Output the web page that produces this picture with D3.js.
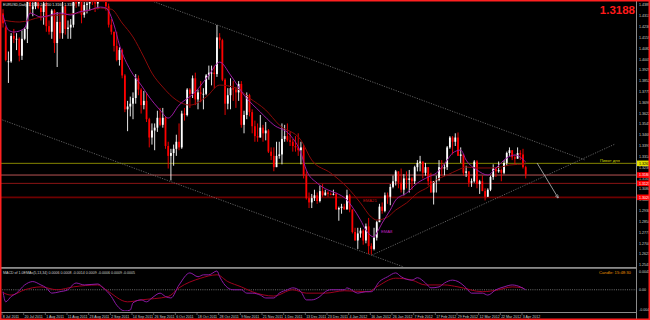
<!DOCTYPE html>
<html><head><meta charset="utf-8">
<script src="https://cdn.jsdelivr.net/npm/d3@7"></script>
<style>html,body{margin:0;padding:0;background:#000;overflow:hidden}svg{display:block}text{font-family:"Liberation Sans",Arial,sans-serif}</style>
</head><body><svg id="c" width="650" height="320"></svg>
<script>
// ---------- DATA ----------
const dates = ["2011-07-08","2011-07-11","2011-07-12","2011-07-13","2011-07-14","2011-07-15","2011-07-18","2011-07-19","2011-07-20","2011-07-21","2011-07-22","2011-07-25","2011-07-26","2011-07-27","2011-07-28","2011-07-29","2011-08-01","2011-08-02","2011-08-03","2011-08-04","2011-08-05","2011-08-08","2011-08-09","2011-08-10","2011-08-11","2011-08-12","2011-08-15","2011-08-16","2011-08-17","2011-08-18","2011-08-19","2011-08-22","2011-08-23","2011-08-24","2011-08-25","2011-08-26","2011-08-29","2011-08-30","2011-08-31","2011-09-01","2011-09-02","2011-09-05","2011-09-06","2011-09-07","2011-09-08","2011-09-09","2011-09-12","2011-09-13","2011-09-14","2011-09-15","2011-09-16","2011-09-19","2011-09-20","2011-09-21","2011-09-22","2011-09-23","2011-09-26","2011-09-27","2011-09-28","2011-09-29","2011-09-30","2011-10-03","2011-10-04","2011-10-05","2011-10-06","2011-10-07","2011-10-10","2011-10-11","2011-10-12","2011-10-13","2011-10-14","2011-10-17","2011-10-18","2011-10-19","2011-10-20","2011-10-21","2011-10-24","2011-10-25","2011-10-26","2011-10-27","2011-10-28","2011-10-31","2011-11-01","2011-11-02","2011-11-03","2011-11-04","2011-11-07","2011-11-08","2011-11-09","2011-11-10","2011-11-11","2011-11-14","2011-11-15","2011-11-16","2011-11-17","2011-11-18","2011-11-21","2011-11-22","2011-11-23","2011-11-24","2011-11-25","2011-11-28","2011-11-29","2011-11-30","2011-12-01","2011-12-02","2011-12-05","2011-12-06","2011-12-07","2011-12-08","2011-12-09","2011-12-12","2011-12-13","2011-12-14","2011-12-15","2011-12-16","2011-12-19","2011-12-20","2011-12-21","2011-12-22","2011-12-23","2011-12-26","2011-12-27","2011-12-28","2011-12-29","2011-12-30","2012-01-02","2012-01-03","2012-01-04","2012-01-05","2012-01-06","2012-01-09","2012-01-10","2012-01-11","2012-01-12","2012-01-13","2012-01-16","2012-01-17","2012-01-18","2012-01-19","2012-01-20","2012-01-23","2012-01-24","2012-01-25","2012-01-26","2012-01-27","2012-01-30","2012-01-31","2012-02-01","2012-02-02","2012-02-03","2012-02-06","2012-02-07","2012-02-08","2012-02-09","2012-02-10","2012-02-13","2012-02-14","2012-02-15","2012-02-16","2012-02-17","2012-02-20","2012-02-21","2012-02-22","2012-02-23","2012-02-24","2012-02-27","2012-02-28","2012-02-29","2012-03-01","2012-03-02","2012-03-05","2012-03-06","2012-03-07","2012-03-08","2012-03-09","2012-03-12","2012-03-13","2012-03-14","2012-03-15","2012-03-16","2012-03-19","2012-03-20","2012-03-21","2012-03-22","2012-03-23","2012-03-26","2012-03-27","2012-03-28","2012-03-29","2012-03-30","2012-04-02","2012-04-03","2012-04-04"];

const opens = [1.4330,1.4230,1.3990,1.3990,1.4170,1.4150,1.4150,1.4030,1.4150,1.4220,1.4420,1.4360,1.4380,1.4500,1.4370,1.4340,1.4400,1.4240,1.4200,1.4350,1.4120,1.4270,1.4190,1.4380,1.4220,1.4230,1.4250,1.4430,1.4400,1.4430,1.4320,1.4390,1.4400,1.4440,1.4410,1.4400,1.4490,1.4500,1.4460,1.4380,1.4250,1.4200,1.4100,1.4000,1.4070,1.3890,1.3650,1.3670,1.3690,1.3730,1.3870,1.3790,1.3680,1.3710,1.3580,1.3450,1.3500,1.3520,1.3590,1.3540,1.3590,1.3390,1.3320,1.3340,1.3370,1.3420,1.3380,1.3620,1.3610,1.3790,1.3760,1.3870,1.3720,1.3770,1.3760,1.3760,1.3890,1.3910,1.3910,1.3900,1.4160,1.4140,1.3860,1.3690,1.3750,1.3800,1.3790,1.3770,1.3830,1.3540,1.3610,1.3750,1.3630,1.3530,1.3460,1.3450,1.3520,1.3480,1.3500,1.3350,1.3320,1.3240,1.3320,1.3330,1.3440,1.3460,1.3430,1.3420,1.3390,1.3380,1.3360,1.3380,1.3180,1.3020,1.2990,1.3020,1.3040,1.3000,1.3070,1.3040,1.3060,1.3050,1.3045,1.3050,1.2940,1.2950,1.2960,1.2940,1.3040,1.2940,1.2780,1.2720,1.2770,1.2790,1.2720,1.2820,1.2680,1.2660,1.2740,1.2850,1.2960,1.2930,1.3040,1.3030,1.3100,1.3140,1.3210,1.3130,1.3080,1.3160,1.3150,1.3160,1.3140,1.3240,1.3270,1.3280,1.3200,1.3240,1.3140,1.3060,1.3140,1.3150,1.3240,1.3230,1.3240,1.3380,1.3450,1.3420,1.3450,1.3320,1.3330,1.3200,1.3210,1.3130,1.3140,1.3280,1.3120,1.3140,1.3070,1.3030,1.3080,1.3170,1.3230,1.3210,1.3220,1.3200,1.3270,1.3340,1.3360,1.3310,1.3300,1.3340,1.3330,1.3240];
const highs = [1.4360,1.4240,1.4060,1.4190,1.4220,1.4190,1.4160,1.4210,1.4230,1.4440,1.4430,1.4410,1.4520,1.4520,1.4390,1.4450,1.4450,1.4280,1.4360,1.4360,1.4340,1.4330,1.4420,1.4390,1.4280,1.4290,1.4440,1.4480,1.4490,1.4440,1.4420,1.4440,1.4460,1.4450,1.4440,1.4500,1.4550,1.4520,1.4480,1.4400,1.4290,1.4200,1.4200,1.4090,1.4080,1.3900,1.3710,1.3740,1.3770,1.3900,1.3890,1.3800,1.3780,1.3770,1.3590,1.3550,1.3550,1.3640,1.3660,1.3660,1.3600,1.3420,1.3370,1.3400,1.3470,1.3550,1.3640,1.3660,1.3800,1.3800,1.3890,1.3910,1.3790,1.3850,1.3800,1.3900,1.3960,1.3960,1.3960,1.4248,1.4190,1.4150,1.3870,1.3800,1.3870,1.3850,1.3810,1.3850,1.3850,1.3640,1.3770,1.3760,1.3650,1.3570,1.3550,1.3610,1.3540,1.3560,1.3510,1.3380,1.3380,1.3420,1.3420,1.3550,1.3540,1.3550,1.3490,1.3440,1.3460,1.3480,1.3420,1.3400,1.3210,1.3060,1.3050,1.3080,1.3060,1.3110,1.3120,1.3080,1.3070,1.3060,1.3080,1.3060,1.2960,1.2980,1.2980,1.3080,1.3050,1.2940,1.2810,1.2810,1.2810,1.2800,1.2840,1.2880,1.2700,1.2810,1.2860,1.2980,1.2990,1.3060,1.3060,1.3120,1.3180,1.3220,1.3210,1.3230,1.3190,1.3210,1.3220,1.3170,1.3250,1.3290,1.3320,1.3280,1.3270,1.3240,1.3200,1.3140,1.3180,1.3290,1.3290,1.3260,1.3390,1.3460,1.3460,1.3480,1.3486,1.3380,1.3330,1.3250,1.3210,1.3160,1.3290,1.3290,1.3150,1.3180,1.3090,1.3090,1.3180,1.3260,1.3240,1.3280,1.3230,1.3290,1.3350,1.3380,1.3360,1.3330,1.3380,1.3360,1.3370,1.3250];
const lows = [1.4230,1.3990,1.3837,1.3980,1.4120,1.4070,1.3990,1.4000,1.4140,1.4120,1.4330,1.4310,1.4360,1.4360,1.4280,1.4250,1.4200,1.4180,1.4150,1.4050,1.3950,1.4150,1.4150,1.4180,1.4150,1.4150,1.4230,1.4370,1.4380,1.4260,1.4300,1.4330,1.4350,1.4390,1.4340,1.4360,1.4440,1.4410,1.4350,1.4230,1.4180,1.4060,1.3990,1.3960,1.3870,1.3630,1.3495,1.3600,1.3580,1.3690,1.3750,1.3620,1.3650,1.3560,1.3380,1.3400,1.3360,1.3490,1.3530,1.3520,1.3370,1.3230,1.3146,1.3250,1.3320,1.3360,1.3370,1.3570,1.3600,1.3660,1.3730,1.3680,1.3650,1.3700,1.3650,1.3750,1.3860,1.3820,1.3800,1.3880,1.4080,1.3850,1.3610,1.3650,1.3650,1.3710,1.3660,1.3710,1.3520,1.3480,1.3580,1.3600,1.3480,1.3420,1.3420,1.3450,1.3420,1.3430,1.3340,1.3290,1.3211,1.3240,1.3300,1.3260,1.3420,1.3420,1.3390,1.3350,1.3350,1.3320,1.3260,1.3160,1.3010,1.2950,1.2950,1.3000,1.2980,1.2990,1.3030,1.3040,1.3030,1.3040,1.3040,1.2940,1.2860,1.2910,1.2940,1.2940,1.2920,1.2770,1.2720,1.2660,1.2740,1.2690,1.2700,1.2624,1.2620,1.2650,1.2720,1.2850,1.2910,1.2920,1.2980,1.2970,1.3090,1.3110,1.3090,1.3060,1.3040,1.3090,1.3060,1.3080,1.3120,1.3210,1.3210,1.3160,1.3180,1.3110,1.3060,1.2975,1.3060,1.3140,1.3180,1.3180,1.3220,1.3370,1.3330,1.3390,1.3320,1.3270,1.3180,1.3170,1.3100,1.3100,1.3130,1.3090,1.3050,1.3070,1.3004,1.3030,1.3070,1.3150,1.3170,1.3200,1.3140,1.3190,1.3250,1.3320,1.3290,1.3260,1.3300,1.3290,1.3230,1.3160];
const closes = [1.4260,1.4000,1.3990,1.4170,1.4150,1.4150,1.4030,1.4150,1.4220,1.4420,1.4380,1.4380,1.4500,1.4370,1.4340,1.4400,1.4240,1.4200,1.4350,1.4120,1.4270,1.4190,1.4380,1.4220,1.4230,1.4250,1.4430,1.4400,1.4430,1.4320,1.4390,1.4400,1.4440,1.4410,1.4400,1.4490,1.4500,1.4460,1.4380,1.4250,1.4200,1.4100,1.4000,1.4070,1.3890,1.3650,1.3670,1.3690,1.3730,1.3870,1.3790,1.3680,1.3710,1.3580,1.3450,1.3500,1.3520,1.3590,1.3540,1.3590,1.3390,1.3320,1.3340,1.3370,1.3420,1.3380,1.3620,1.3610,1.3790,1.3760,1.3870,1.3720,1.3770,1.3760,1.3760,1.3890,1.3910,1.3910,1.3900,1.4160,1.4140,1.3860,1.3690,1.3750,1.3800,1.3790,1.3770,1.3830,1.3540,1.3610,1.3750,1.3630,1.3530,1.3460,1.3450,1.3520,1.3480,1.3500,1.3350,1.3320,1.3240,1.3320,1.3330,1.3440,1.3460,1.3430,1.3420,1.3390,1.3380,1.3360,1.3380,1.3180,1.3020,1.2990,1.3020,1.3040,1.3000,1.3070,1.3040,1.3060,1.3050,1.3045,1.3050,1.2940,1.2950,1.2960,1.2940,1.3040,1.2940,1.2780,1.2720,1.2770,1.2790,1.2720,1.2820,1.2680,1.2660,1.2740,1.2850,1.2960,1.2930,1.3040,1.3030,1.3100,1.3140,1.3210,1.3130,1.3080,1.3160,1.3150,1.3160,1.3140,1.3240,1.3270,1.3280,1.3200,1.3240,1.3140,1.3060,1.3140,1.3150,1.3240,1.3230,1.3240,1.3380,1.3450,1.3420,1.3450,1.3320,1.3330,1.3200,1.3210,1.3130,1.3140,1.3280,1.3120,1.3140,1.3070,1.3030,1.3080,1.3170,1.3230,1.3210,1.3220,1.3200,1.3270,1.3340,1.3360,1.3310,1.3300,1.3340,1.3330,1.3240,1.3188];

// moving averages: [bar index, price]
const emaSlow = [[0,1.4283],[6,1.4269],[14,1.4304],[21,1.4319],[28,1.4333],[36,1.4368],[40,1.4360],[44,1.4262],[48,1.4163],[52,1.4021],[55,1.3907],[59,1.3808],[64,1.3716],[69,1.3680],[75,1.3737],[80,1.3822],[86,1.3801],[91,1.3730],[97,1.3645],[102,1.3539],[110,1.3432],[114,1.3290],[121,1.3198],[127,1.3099],[132,1.2986],[136,1.2886],[138,1.2865],[142,1.2886],[145,1.2936],[149,1.2986],[153,1.3056],[157,1.3099],[160,1.3149],[164,1.3184],[168,1.3220],[171,1.3241],[175,1.3234],[180,1.3234],[184,1.3241],[187,1.3255],[193,1.3262]];
const emaFast = [[0,1.4319],[2,1.4212],[4,1.4198],[8,1.4226],[10,1.4333],[14,1.4304],[21,1.4333],[25,1.4319],[28,1.4340],[32,1.4354],[36,1.4375],[38,1.4368],[41,1.4248],[43,1.4106],[47,1.3929],[51,1.3822],[54,1.3737],[58,1.3645],[61,1.3588],[65,1.3680],[71,1.3773],[76,1.3893],[80,1.3985],[84,1.3893],[89,1.3751],[95,1.3631],[100,1.3539],[106,1.3468],[110,1.3340],[112,1.3220],[116,1.3127],[120,1.3078],[123,1.3056],[127,1.3007],[129,1.2957],[132,1.2865],[134,1.2794],[137,1.2745],[138,1.2773],[140,1.2844],[143,1.2936],[145,1.3007],[149,1.3056],[153,1.3127],[157,1.3170],[160,1.3198],[164,1.3290],[166,1.3340],[169,1.3361],[171,1.3290],[175,1.3220],[179,1.3184],[182,1.3234],[186,1.3305],[189,1.3326],[193,1.3276]];

// MACD sub-window: [bar index, value]
const macdMain = [[0,-0.0004],[1,-0.0025],[3,-0.0014],[5,-0.0007],[8,0.0010],[11,0.0017],[14,0.0010],[16,0.0004],[18,-0.0007],[21,-0.0004],[24,0.0000],[25,0.0006],[27,0.0014],[30,0.0010],[35,0.0012],[37,0.0004],[40,-0.0014],[42,-0.0032],[45,-0.0044],[47,-0.0042],[48,-0.0027],[51,-0.0021],[53,-0.0025],[55,-0.0017],[58,-0.0007],[60,-0.0014],[62,-0.0017],[65,0.0010],[69,0.0035],[72,0.0027],[74,0.0031],[76,0.0031],[79,0.0039],[80,0.0027],[83,0.0004],[85,0.0000],[88,0.0000],[90,-0.0007],[92,-0.0007],[95,-0.0011],[97,-0.0017],[100,-0.0017],[102,-0.0007],[105,0.0000],[107,0.0004],[110,-0.0004],[112,-0.0021],[114,-0.0021],[117,-0.0014],[119,-0.0004],[121,0.0000],[126,0.0000],[127,0.0004],[131,-0.0007],[134,-0.0004],[136,-0.0004],[139,0.0017],[142,0.0027],[145,0.0035],[147,0.0027],[151,0.0020],[153,0.0025],[156,0.0014],[158,0.0004],[161,0.0006],[163,0.0014],[166,0.0020],[168,0.0017],[171,0.0004],[173,-0.0007],[177,-0.0007],[179,-0.0011],[182,0.0000],[185,0.0006],[188,0.0010],[191,0.0006],[193,0.0000]];
const macdSignal = [[0,-0.0006],[3,-0.0011],[8,0.0000],[14,0.0006],[20,0.0000],[26,0.0006],[35,0.0010],[38,0.0000],[46,-0.0025],[51,-0.0021],[61,-0.0014],[65,0.0004],[73,0.0024],[79,0.0031],[83,0.0017],[88,0.0006],[92,-0.0004],[100,-0.0013],[107,0.0000],[112,-0.0007],[119,-0.0007],[126,-0.0002],[135,-0.0004],[138,0.0006],[145,0.0024],[151,0.0020],[156,0.0010],[163,0.0010],[168,0.0006],[177,-0.0004],[183,0.0000],[188,0.0006],[192,0.0004]];

// horizontal levels
const levelNames = ["pivot","bid","s1","s2"];
const levelPrices = [1.3267, 1.3184, 1.3125, 1.3026];
// trend lines: [[bar,price],[bar,price]]
const trendUpper = [[54,1.4425],[215,1.3290]];
const trendLower = [[-1.1,1.3581],[148,1.2532]];
const trendRise = [[136.3,1.2617],[226,1.3404]];
const arrowLine = [[197.2,1.3269],[205,1.3021]];

const priceTicks = [1.4389,1.4313,1.4236,1.4159,1.4082,1.4005,1.3929,1.3852,1.3775,1.3698,1.3622,1.3545,1.3468,1.3391,1.3314,1.3238,1.3161,1.3084,1.3007,1.2930,1.2854,1.2777,1.2700,1.2623,1.2547];
const dateTicks = ["8 Jul 2011","20 Jul 2011","1 Aug 2011","11 Aug 2011","23 Aug 2011","2 Sep 2011","14 Sep 2011","26 Sep 2011","6 Oct 2011","18 Oct 2011","28 Oct 2011","9 Nov 2011","21 Nov 2011","1 Dec 2011","13 Dec 2011","23 Dec 2011","4 Jan 2012","16 Jan 2012","26 Jan 2012","7 Feb 2012","17 Feb 2012","29 Feb 2012","12 Mar 2012","22 Mar 2012","3 Apr 2012"];
const macdTicks = [0.0041, 0.0, -0.0044];
const macdTickLabels = ["0.0041","0.00","-0.0044"];

// ---------- DRAW ----------
const svg = d3.select("#c");
const plotR = 636, mainTop = 2, mainBot = 267, subTop = 270, subBot = 311;
svg.append("rect").attr("width",650).attr("height",320).attr("fill","#000");

const x = d3.scaleLinear().domain([0, 192]).range([3, 523]);
const y = d3.scaleLinear().domain([1.2532, 1.4411]).range([mainBot, mainTop]);
const ym = d3.scaleLinear().domain([-0.0044, 0.0041]).range([subBot, subTop]);
const parse = d3.timeParse("%Y-%m-%d"), fmt = d3.timeFormat("%-d %b %Y");
const bars = dates.map((d,i)=>({i, date:parse(d), o:opens[i], h:highs[i], l:lows[i], c:closes[i]}));

const defs = svg.append("defs");
defs.append("clipPath").attr("id","cm").append("rect").attr("x",0).attr("y",mainTop).attr("width",plotR).attr("height",mainBot-mainTop);
defs.append("clipPath").attr("id","cs").append("rect").attr("x",0).attr("y",mainBot+1).attr("width",plotR).attr("height",subBot-mainBot-1);
defs.append("marker").attr("id","ah").attr("viewBox","0 0 10 10").attr("refX",9).attr("refY",5)
  .attr("markerWidth",5).attr("markerHeight",5).attr("orient","auto")
  .append("path").attr("d","M0,1 L10,5 L0,9").attr("fill","none").attr("stroke","#bdbdbd").attr("stroke-width",1.5);

const main = svg.append("g").attr("clip-path","url(#cm)");

// horizontal levels (behind candles)
const levelColors = ["#858500","#b85454","#8a1414","#6e0000"];
const levelWidths = [1,1,1,1.6];
main.selectAll("line.lvl").data(levelPrices).join("line")
  .attr("x1",0).attr("x2",plotR).attr("y1",d=>y(d)).attr("y2",d=>y(d))
  .attr("stroke",(d,i)=>levelColors[i]).attr("stroke-width",(d,i)=>levelWidths[i]);

// candles
const bw = 1.8;
const cg = main.append("g");
cg.selectAll("line.w").data(bars).join("line")
  .attr("x1",d=>x(d.i)).attr("x2",d=>x(d.i)).attr("y1",d=>y(d.h)).attr("y2",d=>y(d.l))
  .attr("stroke",d=>d.c>=d.o?"#ffffff":"#ff0000").attr("stroke-width",0.9);
cg.selectAll("rect.b").data(bars).join("rect")
  .attr("x",d=>x(d.i)-bw/2).attr("width",bw)
  .attr("y",d=>y(Math.max(d.o,d.c))).attr("height",d=>Math.max(0.8,Math.abs(y(d.o)-y(d.c))))
  .attr("fill",d=>d.c>=d.o?"#ffffff":"#ff0000");

// moving averages
const ln = d3.line().x(d=>x(d[0])).y(d=>y(d[1])).curve(d3.curveMonotoneX);
main.append("path").attr("d",ln(emaSlow)).attr("fill","none").attr("stroke","#8b0a0a").attr("stroke-width",1);
main.append("path").attr("d",ln(emaFast)).attr("fill","none").attr("stroke","#9a1aa0").attr("stroke-width",1);

// trend lines
const tl = d3.line().x(d=>x(d[0])).y(d=>y(d[1]));
[trendUpper, trendLower, trendRise].forEach(t=>{
  main.append("path").attr("d",tl(t)).attr("fill","none").attr("stroke","#767676").attr("stroke-width",0.8).attr("stroke-dasharray","1.2,1.3");
});
main.append("path").attr("d",tl(arrowLine)).attr("fill","none").attr("stroke","#bdbdbd").attr("stroke-width",0.8).attr("marker-end","url(#ah)");

// labels inside main
main.append("text").attr("x",363).attr("y",201.5).attr("fill","#c81414").attr("font-size",4.2).text("EMA21");
main.append("text").attr("x",381).attr("y",233).attr("fill","#c020c0").attr("font-size",4.2).text("EMA8");
main.append("text").attr("x",600).attr("y",y(levelPrices[0])-1.5).attr("fill","#d8d800").attr("font-size",4.2).text("Пивот дня");
svg.append("text").attr("x",3).attr("y",5.5).attr("fill","#e0e0e0").attr("font-size",3.6).text("EURUSD,Daily  1.3240 1.3250 1.3160 1.3188");
svg.append("text").attr("x",635).attr("y",13.5).attr("text-anchor","end").attr("fill","#ff1a1a").attr("font-size",11.5).attr("font-weight","bold").text("1.3188");

// separators and axes
svg.append("rect").attr("x",0).attr("y",mainBot).attr("width",plotR).attr("height",1.8).attr("fill","#8a8a8a");
svg.append("line").attr("x1",0).attr("x2",plotR).attr("y1",312.5).attr("y2",312.5).attr("stroke","#8a8a8a").attr("stroke-width",1);
svg.append("line").attr("x1",plotR+0.5).attr("x2",plotR+0.5).attr("y1",0).attr("y2",320).attr("stroke","#8a8a8a").attr("stroke-width",1);

// price axis
const ax = svg.append("g");
ax.selectAll("text").data(priceTicks).join("text")
  .attr("x",639).attr("y",d=>y(d)+1.3).attr("fill","#d0d0d0").attr("font-size",3.6).text(d=>d.toFixed(4));
// level boxes on axis
const boxFill = ["#e0e000","#ff0000","#ff0000","#ff0000"];
levelPrices.forEach((p,i)=>{
  ax.append("rect").attr("x",637).attr("y",y(p)-2.8).attr("width",13).attr("height",5.6).attr("fill",boxFill[i]);
  ax.append("text").attr("x",639).attr("y",y(p)+1.3).attr("fill",i===0?"#000":"#fff").attr("font-size",3.6).text(p.toFixed(4));
});

// MACD window
const sub = svg.append("g").attr("clip-path","url(#cs)");
sub.append("line").attr("x1",0).attr("x2",plotR).attr("y1",ym(0)).attr("y2",ym(0)).attr("stroke","#8a8a8a").attr("stroke-width",0.8).attr("stroke-dasharray","1,1.2");
const ml = d3.line().x(d=>x(d[0])).y(d=>ym(d[1])).curve(d3.curveMonotoneX);
sub.append("path").attr("d",ml(macdSignal)).attr("fill","none").attr("stroke","#a0001e").attr("stroke-width",1);
sub.append("path").attr("d",ml(macdMain)).attr("fill","none").attr("stroke","#8c1aa6").attr("stroke-width",1);
svg.append("text").attr("x",3).attr("y",274).attr("fill","#d0d0d0").attr("font-size",3.6).text("MACD of 1.0EMAs(5,13,34) 0.0006 0.0008 -0.0014 0.0009 -0.0006 0.0009 -0.0005");
svg.append("text").attr("x",599).attr("y",274).attr("fill","#e89000").attr("font-size",4.2).text("Candle:  15:48:30");
svg.selectAll("text.mt").data(macdTicks).join("text").attr("class","mt")
  .attr("x",639).attr("y",(d,i)=>ym(d)+(i===0?2.5:(i===2?0:1.3))).attr("fill","#d0d0d0").attr("font-size",3.6).text((d,i)=>macdTickLabels[i]);

// date axis
const idxOf = {}; bars.forEach(b=>idxOf[fmt(b.date)] = b.i);
const dg = svg.append("g");
dateTicks.forEach(t=>{
  const i = idxOf[t]; if (i===undefined) return;
  const xx = x(i) - 1;
  dg.append("line").attr("x1",xx).attr("x2",xx).attr("y1",312.5).attr("y2",315).attr("stroke","#8a8a8a").attr("stroke-width",0.6);
  dg.append("text").attr("x",xx+0.8).attr("y",317.5).attr("fill","#d0d0d0").attr("font-size",3.6).text(t);
});

// red frame
svg.append("rect").attr("x",0.75).attr("y",0.75).attr("width",648.5).attr("height",318.5).attr("fill","none").attr("stroke","#ff2020").attr("stroke-width",1.5);
</script></body></html>
